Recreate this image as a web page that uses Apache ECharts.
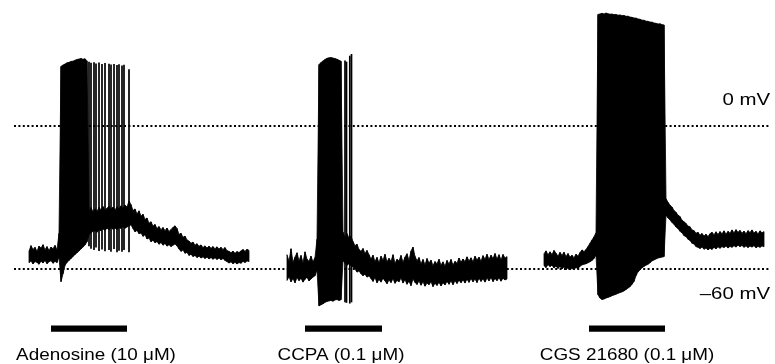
<!DOCTYPE html>
<html><head><meta charset="utf-8">
<script src="https://cdn.jsdelivr.net/npm/echarts@6/dist/echarts.min.js"></script>
<style>html,body{margin:0;padding:0;background:#fff}#c{width:775px;height:364px}</style>
</head><body><div id="c"></div>
<script>
// Membrane potential traces, stored as per-sample envelope (max / min, mV).
// Time axis in arbitrary sweep units; sample step dt.
const dt = 2;

const adenosineT0 = 29;
const adenosineHi = [
  -52.5,-50.2,-51.8,-50.9,-52.6,-50.4,-51.2,-49.8,-51.9,-50.6,-52.2,-50.8,-51.5,-50.1,-52.0,
  -45.0,
  25.0,25.6,26.0,26.5,26.7,27.1,27.2,27.6,27.9,28.1,28.3,28.0,28.2,27.3,
  -35.5,-34.2,-36.0,-34.8,-35.9,-34.1,-35.2,-33.8,-35.6,-34.5,-33.6,-35.0,-34.0,-35.3,-33.9,-34.8,-33.5,-34.6,-33.2,-34.0,-31.5,
  -33.0,-35.5,-34.8,-36.9,-35.6,-37.8,-37.0,-39.2,-38.6,-40.8,
  -40.2,-42.0,-41.3,-43.0,-42.2,-43.5,-42.6,-43.9,-42.8,-44.3,
  -43.4,-42.6,-41.9,-43.0,-45.5,-45.0,-46.7,-46.2,-47.8,-48.3,
  -49.2,-48.7,-50.0,-49.4,-50.5,-49.9,-51.0,-50.3,-51.2,-50.4,
  -51.3,-50.6,-51.5,-50.7,-51.6,-50.9,-51.8,-51.0,-52.3,-52.6,
  -53.2,-52.5,-53.4,-52.7,-53.1,-52.4,-51.8,-52.6,-51.7,-52.2
];
const adenosineLo = [
  -57.4,-56.6,-57.9,-56.9,-57.2,-58.0,-56.7,-57.5,-56.4,-57.8,-57.0,-56.5,-57.6,-56.8,-57.3,
  -55.0,
  -65.3,-62.0,-58.5,-57.2,-56.4,-55.6,-54.8,-53.9,-53.2,-52.4,-51.6,-50.8,-49.9,-48.6,
  -45.5,-44.8,-44.2,-43.9,-44.6,-43.5,-44.0,-43.2,-43.8,-42.9,-43.5,-42.6,-43.3,-42.8,-43.6,-42.5,-43.0,-42.2,-42.9,-42.4,-41.8,
  -41.5,-43.0,-44.4,-43.8,-45.2,-44.9,-46.3,-45.6,-47.4,-47.0,
  -48.6,-47.9,-49.0,-48.5,-49.6,-48.9,-50.0,-49.3,-50.4,-49.8,
  -50.6,-50.0,-49.5,-50.3,-51.6,-52.6,-52.0,-53.4,-53.0,-54.3,
  -53.8,-54.8,-54.3,-55.2,-54.6,-55.4,-54.9,-55.6,-55.0,-55.8,
  -55.2,-55.9,-55.3,-56.0,-55.4,-56.1,-55.6,-56.4,-56.9,-57.5,
  -57.0,-57.8,-57.2,-57.9,-57.3,-57.6,-56.8,-57.3,-56.6,-56.9
];
const adenosineSpikeT = [89,91,94,96,99,102,105,109,111,114,117,119,122,124,129];
const adenosineSpikePeak = [27.0,26.5,26.8,26.2,26.6,26.0,26.4,26.1,25.8,26.0,25.6,25.9,25.4,25.7,23.8];
const adenosineSpikeTrough = [-50.5,-51.5,-52.0,-51.0,-52.5,-51.8,-52.6,-52.0,-52.8,-51.6,-53.0,-52.3,-52.8,-52.0,-53.0];

const ccpaT0 = 287;
const ccpaHi = [
  -54.0,-56.8,-51.5,-57.2,-55.0,-53.2,-56.5,-54.3,-57.4,-52.8,-55.9,-56.8,-54.6,-57.0,-55.2,
  -47.5,
  25.8,26.6,27.3,27.9,28.4,28.6,28.7,28.5,28.3,28.0,27.6,27.2,
  -44.5,-46.8,-45.2,-47.0,-46.3,-48.5,-50.2,-49.6,-51.8,-52.6,-51.4,-53.5,-52.2,-54.0,
  -55.8,-54.2,-56.9,-55.1,-57.4,-54.6,-56.3,-53.8,-57.0,-55.5,
  -56.8,-54.0,-57.6,-55.9,-56.6,-54.3,-57.2,-55.0,-53.6,-56.4,
  -52.5,-50.8,-54.7,-56.5,-55.2,-57.8,-56.0,-58.2,-55.6,-57.5,
  -56.3,-58.6,-56.9,-57.8,-55.9,-58.4,-57.0,-58.8,-56.4,-57.9,
  -56.0,-58.3,-56.8,-57.6,-55.4,-57.2,-55.8,-56.9,-54.9,-56.6,
  -55.3,-57.0,-54.6,-56.2,-55.0,-56.7,-54.4,-55.9,-53.8,-56.0,
  -54.2,-55.6,-53.5,-55.8,-54.0,-56.2,-53.9,-55.4,-54.8
];
const ccpaLo = [
  -64.8,-63.2,-65.4,-64.0,-65.8,-63.6,-64.9,-63.9,-65.5,-64.3,-63.5,-65.0,-64.2,-63.4,-62.8,
  -60.5,
  -75.5,-75.0,-74.6,-74.0,-73.6,-73.4,-73.2,-73.5,-73.0,-72.8,-73.2,-72.9,
  -56.5,-57.6,-58.4,-57.8,-58.6,-59.2,-60.0,-61.3,-60.8,-62.0,-62.8,-62.2,-63.4,-62.9,
  -64.0,-65.2,-63.6,-65.8,-64.4,-65.5,-63.9,-65.0,-66.2,-64.6,
  -65.7,-64.1,-66.0,-64.8,-65.4,-63.8,-65.9,-64.5,-66.4,-65.1,
  -67.0,-64.2,-65.6,-66.5,-65.0,-66.8,-65.4,-67.2,-65.9,-66.6,
  -65.3,-67.4,-66.0,-66.9,-65.6,-67.1,-65.8,-66.7,-65.2,-66.4,
  -65.0,-66.6,-64.9,-66.1,-64.7,-65.8,-64.5,-65.9,-64.3,-65.6,
  -64.0,-65.4,-64.2,-65.7,-63.9,-65.2,-64.1,-65.5,-63.8,-65.0,
  -63.6,-65.3,-64.0,-64.9,-63.7,-65.1,-63.9,-64.6,-64.2
];
const ccpaSpikeT = [345,346.5,349.8,351.5];
const ccpaSpikePeak = [27.5,27.0,29.5,30.2];
const ccpaSpikeTrough = [-74.0,-74.2,-74.5,-74.0];

const cgsT0 = 544;
const cgsHi = [
  -53.6,-52.4,-54.0,-52.8,-53.9,-52.2,-53.4,-54.6,-53.0,-54.3,-52.9,-54.8,-53.5,-55.0,-54.2,-55.3,-53.8,-54.6,-53.1,-52.0,-52.7,-51.8,-50.6,-49.2,
  -47.8,-46.5,-44.8,
  46.8,47.0,47.3,47.0,47.4,47.1,46.9,47.0,46.7,46.8,46.5,46.6,46.3,46.4,46.0,46.1,45.7,45.6,45.3,45.3,44.9,44.8,44.4,44.4,44.0,43.9,43.6,43.6,43.2,43.1,42.8,42.9,42.5,42.4,
  -30.5,-32.0,-33.2,-34.0,-35.5,-36.2,-37.4,-38.0,-39.5,-40.2,
  -40.9,-42.0,-42.3,-43.6,-43.9,-45.0,-44.6,-45.8,-45.1,-46.2,
  -45.4,-46.4,-45.2,-44.6,-45.6,-44.4,-45.5,-44.3,-45.2,-44.0,
  -45.4,-44.2,-45.0,-43.6,-44.8,-43.5,-44.6,-43.8,-45.0,-44.1,
  -45.2,-43.9,-44.7,-43.6,-44.9,-44.2,-45.3,-44.0,-44.8,-44.3
];
const cgsLo = [
  -58.6,-59.4,-58.2,-59.0,-58.4,-59.6,-58.8,-59.8,-58.9,-60.0,-59.2,-60.3,-59.5,-60.4,-59.7,-60.2,-59.4,-59.9,-58.8,-58.3,-58.0,-57.8,-57.4,-57.0,
  -56.4,-55.6,-54.2,
  -70.8,-72.2,-72.8,-72.6,-72.2,-71.9,-71.6,-71.2,-70.9,-70.6,-70.2,-69.9,-69.6,-69.2,-68.6,-68.0,-67.4,-66.4,-65.2,-62.8,-61.2,-60.4,-59.5,-58.9,-58.4,-58.0,-57.4,-56.6,-56.2,-55.8,-55.4,-55.2,-55.0,-54.8,
  -37.5,-38.6,-39.4,-40.5,-41.2,-42.4,-43.0,-44.2,-44.8,-46.0,
  -46.4,-47.5,-48.0,-49.2,-49.5,-50.6,-50.9,-51.4,-50.8,-51.7,
  -51.2,-52.0,-51.3,-51.8,-50.9,-51.6,-50.7,-51.3,-50.6,-51.0,
  -50.4,-51.2,-50.5,-50.9,-50.2,-50.8,-50.0,-50.6,-50.1,-50.9,
  -50.3,-51.0,-50.4,-50.8,-50.2,-51.1,-50.5,-50.9,-50.3,-50.7
];

const refLevels = [0, -60];
const refLabels = ['0 mV', '\u201360 mV'];
const drugNames = ['Adenosine (10 \u03bcM)', 'CCPA (0.1 \u03bcM)', 'CGS 21680 (0.1 \u03bcM)'];
const drugStart = [51, 305, 589];
const drugEnd = [127, 382, 665];
const drugBarLevel = -85;

function envelope(t0, hi, lo) {
  return hi.map((h, i) => [t0 + i * dt, h, lo[i]]);
}
function spikes(t, pk, tr) {
  return t.map((v, i) => [v, pk[i], tr[i]]);
}

function bandRender(params, api) {
  const k = params.dataIndexInside;
  if (k + 1 >= params.dataInsideLength) return null;
  const a1 = api.coord([api.value(0), api.value(1)]);
  const a2 = api.coord([api.value(0), api.value(2)]);
  const b1 = api.coord([api.value(0, k + 1), api.value(1, k + 1)]);
  const b2 = api.coord([api.value(0, k + 1), api.value(2, k + 1)]);
  return { type: 'polygon', shape: { points: [a1, b1, b2, a2] },
           style: { fill: '#000', stroke: '#000', lineWidth: 0.8 } };
}
function spikeRender(params, api) {
  const p = api.coord([api.value(0), api.value(1)]);
  const q = api.coord([api.value(0), api.value(2)]);
  return { type: 'line', shape: { x1: p[0], y1: p[1], x2: q[0], y2: q[1] },
           style: { stroke: '#000', lineWidth: 1.7 } };
}
function drugRender(params, api) {
  const p = api.coord([api.value(0), api.value(2)]);
  const q = api.coord([api.value(1), api.value(2)]);
  return { type: 'rect', shape: { x: p[0], y: p[1] - 3.2, width: q[0] - p[0], height: 6.4 },
           style: { fill: '#000' } };
}

const font = '17px "Liberation Sans", Arial, Helvetica, sans-serif';
const chart = echarts.init(document.getElementById('c'), null, { renderer: 'canvas' });

const graphics = [];
refLabels.forEach((txt, i) => {
  graphics.push({ type: 'text', x: 770, y: i === 0 ? 100 : 294, scaleX: 1.2,
    style: { text: txt, x: 0, y: 0, font: font, fill: '#000',
             align: 'right', verticalAlign: 'middle', textAlign: 'right', textVerticalAlign: 'middle' } });
});
const drugLabelX = [96, 341, 627];
drugNames.forEach((txt, i) => {
  graphics.push({ type: 'text', x: drugLabelX[i], y: 355, scaleX: 1.11,
    style: { text: txt, x: 0, y: 0, font: font, fill: '#000',
             align: 'center', verticalAlign: 'middle', textAlign: 'center', textVerticalAlign: 'middle' } });
});

chart.setOption({
  animation: false,
  backgroundColor: '#fff',
  grid: { left: 14, right: 5, top: 6.833, height: 357.5, outerBoundsMode: 'none', containLabel: false },
  xAxis: { type: 'value', min: 14, max: 770, show: false },
  yAxis: { type: 'value', min: -100, max: 50, show: false },
  graphic: graphics,
  series: [
    { type: 'custom', name: 'Adenosine', renderItem: bandRender, encode: { x: 0, y: [1, 2] },
      data: envelope(adenosineT0, adenosineHi, adenosineLo), z: 3,
      markLine: { silent: true, symbol: ['none', 'none'], label: { show: false }, z: 1,
        lineStyle: { color: '#000', type: [2, 2.4], width: 2 },
        data: refLevels.map(v => ({ yAxis: v })) } },
    { type: 'custom', renderItem: spikeRender, encode: { x: 0, y: [1, 2] },
      data: spikes(adenosineSpikeT, adenosineSpikePeak, adenosineSpikeTrough), z: 4 },
    { type: 'custom', name: 'CCPA', renderItem: bandRender, encode: { x: 0, y: [1, 2] },
      data: envelope(ccpaT0, ccpaHi, ccpaLo), z: 3 },
    { type: 'custom', renderItem: spikeRender, encode: { x: 0, y: [1, 2] },
      data: spikes(ccpaSpikeT, ccpaSpikePeak, ccpaSpikeTrough), z: 4 },
    { type: 'custom', name: 'CGS 21680', renderItem: bandRender, encode: { x: 0, y: [1, 2] },
      data: envelope(cgsT0, cgsHi, cgsLo), z: 3 },
    { type: 'custom', name: 'drug', renderItem: drugRender, encode: { x: [0, 1], y: 2 },
      data: drugStart.map((s, i) => [s, drugEnd[i], drugBarLevel]), z: 3, clip: false }
  ]
});
</script></body></html>
